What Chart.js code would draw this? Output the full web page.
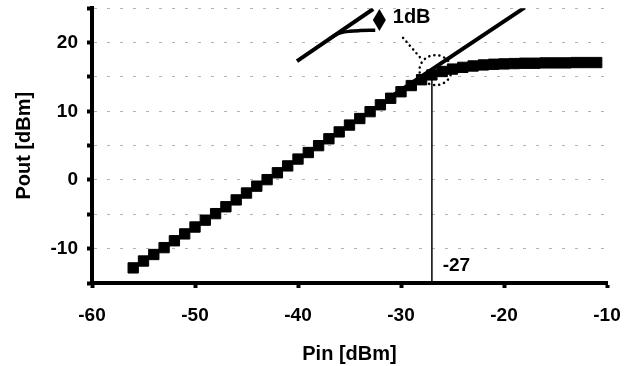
<!DOCTYPE html>
<html>
<head>
<meta charset="utf-8">
<script src="https://cdn.jsdelivr.net/npm/chart.js@4"></script>
<style>
  html, body { margin: 0; padding: 0; background: #fff; }
  #wrap { width: 638px; height: 366px; }
</style>
</head>
<body>
<div id="wrap"><canvas id="p1dB"></canvas></div>
<script>
// measured input / output power (dBm)
const pin = [-56, -55, -54, -53, -52, -51, -50, -49, -48, -47, -46, -45, -44, -43, -42, -41,
  -40, -39, -38, -37, -36, -35, -34, -33, -32, -31, -30, -29, -28, -27, -26, -25,
  -24, -23, -22, -21, -20, -19, -18, -17, -16, -15, -14, -13, -12, -11];
const pout = [-12.8, -11.8, -10.85, -9.85, -8.85, -7.85, -6.85, -5.85, -4.9, -3.9, -2.9, -1.9,
  -0.9, 0.05, 1.05, 2.05, 3.05, 4.0, 5.0, 6.0, 7.0, 8.0, 8.95, 9.95, 10.95, 11.9, 12.85,
  13.75, 14.6, 15.3, 15.8, 16.15, 16.4, 16.6, 16.75, 16.85, 16.9, 16.95, 17.0, 17.0,
  17.05, 17.05, 17.05, 17.1, 17.1, 17.1];

// extrapolated small-signal line
const linX = [-31, -18];
const linY = [12.1, 25.1];

// compression point marker
const p1dbX = [-27, -27];
const p1dbY = [-15, 14.8];

// little legend sketch top left
const sketchLineX = [-40.1, -32.7];
const sketchLineY = [17.3, 24.9];
const sketchCurveX = [-36.9, -36.4, -35.8, -35.0, -34.0, -32.5];
const sketchCurveY = [20.6, 21.1, 21.45, 21.65, 21.75, 21.8];

const xTicks = [-60, -50, -40, -30, -20, -10];

const pts = (xs, ys) => xs.map((x, i) => ({ x: x, y: ys[i] }));
const FONT = "'Liberation Sans', Arial, sans-serif";

const notes = {
  id: 'notes',
  afterDatasetsDraw(chart) {
    const { ctx, scales: { x, y } } = chart;
    ctx.save();
    // dotted ellipse round the 1dB point
    ctx.strokeStyle = '#000';
    ctx.lineWidth = 2.5;
    ctx.lineCap = 'round';
    ctx.setLineDash([0.1, 5]);
    ctx.beginPath();
    ctx.ellipse(x.getPixelForValue(-26.65), y.getPixelForValue(16), 16, 15, 0, 0, Math.PI * 2);
    ctx.stroke();
    ctx.beginPath();
    ctx.moveTo(x.getPixelForValue(-29.8), y.getPixelForValue(20.7));
    ctx.lineTo(x.getPixelForValue(-28.0), y.getPixelForValue(17.6));
    ctx.stroke();
    ctx.setLineDash([]);
    // diamond
    const dx = x.getPixelForValue(-32.1), dy = y.getPixelForValue(23.3);
    ctx.fillStyle = '#000';
    ctx.beginPath();
    ctx.moveTo(dx, dy - 11);
    ctx.lineTo(dx + 6.5, dy);
    ctx.lineTo(dx, dy + 11);
    ctx.lineTo(dx - 6.5, dy);
    ctx.closePath();
    ctx.fill();
    // labels
    ctx.font = 'bold 20px ' + FONT;
    ctx.textBaseline = 'middle';
    ctx.fillText('1dB', x.getPixelForValue(-30.8), y.getPixelForValue(23.6));
    ctx.font = 'bold 19px ' + FONT;
    ctx.fillText('-27', x.getPixelForValue(-25.95), y.getPixelForValue(-12.5));
    ctx.restore();
  }
};

new Chart(document.getElementById('p1dB'), {
  type: 'scatter',
  data: {
    datasets: [
      {
        type: 'line',
        data: pts(p1dbX, p1dbY),
        borderColor: '#000',
        borderWidth: 1.5,
        pointRadius: 0
      },
      {
        type: 'line',
        data: pts(linX, linY),
        borderColor: '#000',
        borderWidth: 4,
        pointRadius: 0
      },
      {
        type: 'line',
        data: pts(sketchLineX, sketchLineY),
        borderColor: '#000',
        borderWidth: 4,
        pointRadius: 0
      },
      {
        type: 'line',
        data: pts(sketchCurveX, sketchCurveY),
        borderColor: '#000',
        borderWidth: 3.5,
        cubicInterpolationMode: 'monotone',
        pointRadius: 0
      },
      {
        data: pts(pin, pout),
        pointStyle: 'rect',
        pointRadius: 7.3,
        backgroundColor: '#000',
        borderColor: '#000',
        borderWidth: 1
      }
    ]
  },
  options: {
    responsive: true,
    maintainAspectRatio: false,
    animation: false,
    layout: { padding: { top: 4, right: 31, left: 0, bottom: 0 } },
    plugins: {
      legend: { display: false },
      tooltip: { enabled: false }
    },
    scales: {
      x: {
        type: 'linear',
        min: -60,
        max: -10,
        afterBuildTicks: s => { s.ticks = xTicks.map(v => ({ value: v })); },
        afterFit: s => { s.height = 83; s.paddingLeft = 0; s.paddingRight = 0; },
        border: { color: '#000', width: 4 },
        grid: { drawOnChartArea: false, tickLength: 5, tickWidth: 4, tickColor: '#000' },
        ticks: { color: '#000', padding: 16, font: { family: FONT, size: 19, weight: 'bold' } },
        title: {
          display: true,
          text: 'Pin [dBm]',
          color: '#000',
          padding: { top: 0, bottom: 0 },
          font: { family: FONT, size: 20, weight: 'bold' }
        }
      },
      y: {
        min: -15,
        max: 25,
        afterFit: s => { s.width = 92; s.paddingTop = 0; s.paddingBottom = 0; },
        border: { color: '#000', width: 4, dash: [3, 10] },
        grid: { color: '#b4b4b4', lineWidth: 1, tickLength: 5, tickWidth: 4, tickColor: '#000' },
        ticks: {
          stepSize: 5,
          color: '#000',
          padding: 9,
          font: { family: FONT, size: 19, weight: 'bold' },
          callback: v => (v % 10 === 0 ? v : '')
        },
        title: {
          display: true,
          text: 'Pout [dBm]',
          color: '#000',
          padding: { top: 12, bottom: 0 },
          font: { family: FONT, size: 20, weight: 'bold' }
        }
      }
    }
  },
  plugins: [notes]
});
</script>
</body>
</html>
